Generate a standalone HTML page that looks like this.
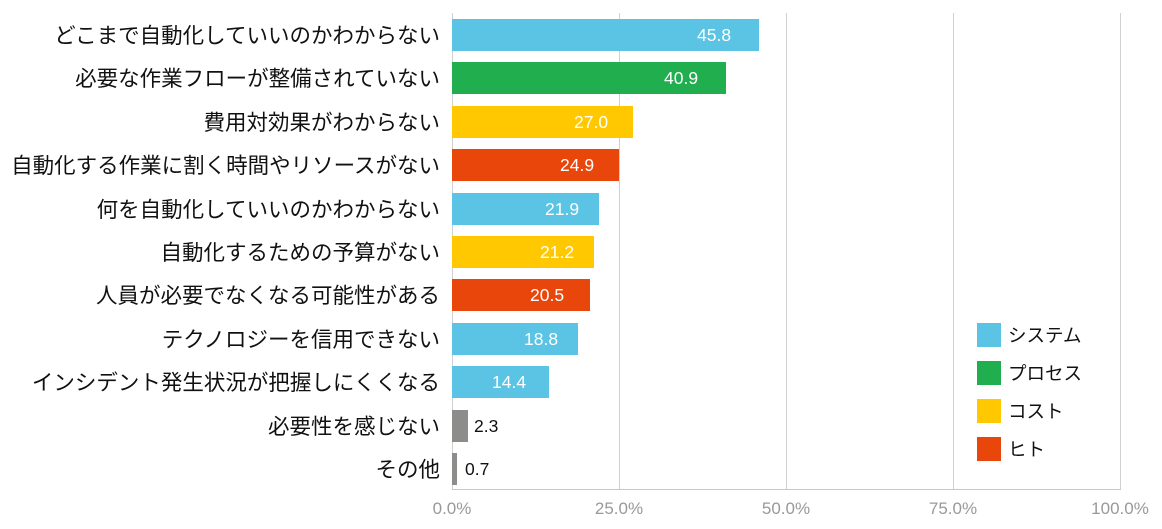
<!DOCTYPE html><html><head><meta charset="utf-8"><style>
body{margin:0;width:1162px;height:529px;background:#fff;position:relative;overflow:hidden;font-family:"Liberation Sans","Noto Sans CJK JP",sans-serif}
.g{position:absolute;top:13px;height:476px;width:1px;background:#d0d0d0}
.b{position:absolute;left:452px;height:32px}
.l{position:absolute;right:722px;font-size:21.5px;color:#111;line-height:32px;white-space:nowrap;font-family:"Noto Sans CJK JP",sans-serif}
.v{position:absolute;font-size:17.5px;line-height:32px;color:#fff}
.t{position:absolute;top:499px;font-size:17px;color:#999;width:80px;text-align:center}
.lg{position:absolute;left:977px;width:24px;height:24px}
.lt{position:absolute;left:1008px;font-size:18.5px;line-height:24px;color:#111;font-family:"Noto Sans CJK JP",sans-serif}
</style></head><body>
<div class="g" style="left:452px"></div>
<div class="g" style="left:619px"></div>
<div class="g" style="left:786px"></div>
<div class="g" style="left:953px"></div>
<div class="g" style="left:1120px"></div>
<div style="position:absolute;left:452px;top:489px;width:669px;height:1px;background:#c8c8c8"></div>
<div class="t" style="left:412px">0.0%</div>
<div class="t" style="left:579px">25.0%</div>
<div class="t" style="left:746px">50.0%</div>
<div class="t" style="left:913px">75.0%</div>
<div class="t" style="left:1080px">100.0%</div>

<div class="l" style="top:19px">どこまで自動化していいのかわからない</div><div class="b" style="top:19px;width:307px;background:#5bc3e3"></div><div class="v" style="top:19px;left:697px">45.8</div>
<div class="l" style="top:62px">必要な作業フローが整備されていない</div><div class="b" style="top:62px;width:274px;background:#20ae4f"></div><div class="v" style="top:62px;left:664px">40.9</div>
<div class="l" style="top:106px">費用対効果がわからない</div><div class="b" style="top:106px;width:181px;background:#ffc800"></div><div class="v" style="top:106px;left:574px">27.0</div>
<div class="l" style="top:149px">自動化する作業に割く時間やリソースがない</div><div class="b" style="top:149px;width:167px;background:#e8460a"></div><div class="v" style="top:149px;left:560px">24.9</div>
<div class="l" style="top:193px">何を自動化していいのかわからない</div><div class="b" style="top:193px;width:147px;background:#5bc3e3"></div><div class="v" style="top:193px;left:545px">21.9</div>
<div class="l" style="top:236px">自動化するための予算がない</div><div class="b" style="top:236px;width:142px;background:#ffc800"></div><div class="v" style="top:236px;left:540px">21.2</div>
<div class="l" style="top:279px">人員が必要でなくなる可能性がある</div><div class="b" style="top:279px;width:138px;background:#e8460a"></div><div class="v" style="top:279px;left:530px">20.5</div>
<div class="l" style="top:323px">テクノロジーを信用できない</div><div class="b" style="top:323px;width:126px;background:#5bc3e3"></div><div class="v" style="top:323px;left:524px">18.8</div>
<div class="l" style="top:366px">インシデント発生状況が把握しにくくなる</div><div class="b" style="top:366px;width:97px;background:#5bc3e3"></div><div class="v" style="top:366px;left:492px">14.4</div>
<div class="l" style="top:410px">必要性を感じない</div><div class="b" style="top:410px;width:16px;background:#8c8c8a"></div><div class="v" style="top:410px;left:474px;color:#111">2.3</div>
<div class="l" style="top:453px">その他</div><div class="b" style="top:453px;width:5px;background:#8c8c8a"></div><div class="v" style="top:453px;left:465px;color:#111">0.7</div>

<div class="lg" style="top:323px;background:#5bc3e3"></div><div class="lt" style="top:323px">システム</div>
<div class="lg" style="top:361px;background:#20ae4f"></div><div class="lt" style="top:361px">プロセス</div>
<div class="lg" style="top:399px;background:#ffc800"></div><div class="lt" style="top:399px">コスト</div>
<div class="lg" style="top:437px;background:#e8460a"></div><div class="lt" style="top:437px">ヒト</div>
</body></html>
